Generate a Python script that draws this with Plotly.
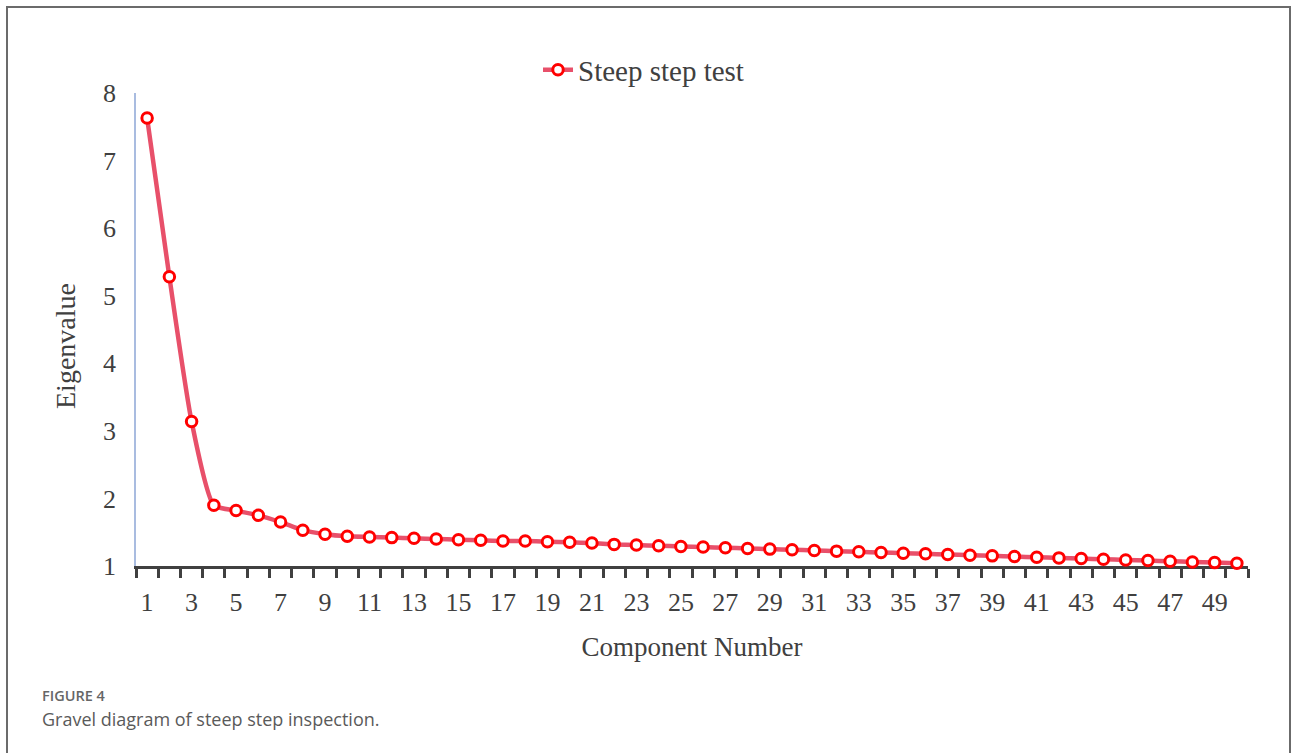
import plotly.graph_objects as go

components = list(range(1, 51))
eigenvalues = [7.63, 5.28, 3.14, 1.90, 1.82, 1.75, 1.65, 1.53, 1.47, 1.44,
               1.43, 1.42, 1.41, 1.40, 1.39, 1.38, 1.37, 1.37, 1.36, 1.35,
               1.34, 1.32, 1.31, 1.30, 1.29, 1.28, 1.27, 1.26, 1.25, 1.24,
               1.23, 1.22, 1.21, 1.20, 1.19, 1.18, 1.17, 1.16, 1.15, 1.14,
               1.13, 1.12, 1.11, 1.10, 1.09, 1.08, 1.07, 1.06, 1.05, 1.04]
x_tick_labels = [str(v) for v in range(1, 50, 2)]
y_tick_values = [1, 2, 3, 4, 5, 6, 7, 8]
series_name = "Steep step test"
x_title = "Component Number"
y_title = "Eigenvalue"
caption_label = "FIGURE 4"
caption_text = "Gravel diagram of steep step inspection."

W, H = 1292, 753
L, R, T, B = 136, 44, 93, 187
pw, ph = W - L - R, H - T - B


def px_x(p):
    return (p - L) / pw


def px_y(p):
    return (H - B - p) / ph


serif = "Liberation Serif, Times New Roman, serif"
text_col = "#404040"

fig = go.Figure()
fig.add_trace(go.Scatter(
    x=components, y=eigenvalues, name=series_name,
    mode="lines+markers",
    line=dict(color="#E8506A", width=4.5, shape="spline", smoothing=0.6),
    marker=dict(symbol="circle", size=10.5, color="white",
                line=dict(color="#FF0000", width=3)),
    cliponaxis=False,
))

fig.update_layout(
    width=W, height=H,
    margin=dict(l=L, r=R, t=T, b=B, autoexpand=False),
    paper_bgcolor="white", plot_bgcolor="white",
    showlegend=True,
    legend=dict(x=px_x(538), y=px_y(70), xanchor="left", yanchor="middle",
                orientation="h", bgcolor="rgba(0,0,0,0)",
                font=dict(family=serif, size=29, color=text_col)),
    xaxis=dict(
        range=[0.5, 50.5], showgrid=False, zeroline=False,
        showline=True, linecolor=text_col, linewidth=3,
        tickmode="array", tickvals=[int(t) for t in x_tick_labels],
        ticktext=x_tick_labels, ticks="outside", ticklen=0,
        tickfont=dict(family=serif, size=26, color=text_col),
        ticklabelstandoff=11,
        minor=dict(tick0=0.5, dtick=1, ticks="outside", ticklen=9,
                   tickwidth=3, tickcolor=text_col, showgrid=False),
        title=dict(text=x_title, standoff=21,
                   font=dict(family=serif, size=27, color=text_col)),
        layer="below traces", automargin=False,
    ),
    yaxis=dict(
        range=[1, 8], showgrid=False, zeroline=False,
        showline=True, linecolor="#A9BCE0", linewidth=1.5,
        tickmode="array", tickvals=y_tick_values, ticks="",
        tickfont=dict(family=serif, size=26, color=text_col),
        ticklabelstandoff=13,
        layer="below traces", automargin=False,
    ),
    shapes=[
        dict(type="line", xref="paper", yref="paper",
             x0=px_x(7), x1=px_x(7), y0=px_y(7), y1=px_y(H + 5),
             line=dict(color="#6b6b6b", width=2)),
        dict(type="line", xref="paper", yref="paper",
             x0=px_x(1290), x1=px_x(1290), y0=px_y(7), y1=px_y(H + 5),
             line=dict(color="#6b6b6b", width=2)),
        dict(type="line", xref="paper", yref="paper",
             x0=px_x(6), x1=px_x(1291), y0=px_y(7), y1=px_y(7),
             line=dict(color="#6b6b6b", width=2)),
    ],
    annotations=[
        dict(text=y_title, xref="paper", yref="paper", textangle=-90,
             x=px_x(65), y=px_y(346), xanchor="center", yanchor="middle",
             showarrow=False,
             font=dict(family=serif, size=28, color=text_col)),
        dict(text=caption_label, xref="paper", yref="paper",
             x=px_x(40), y=px_y(695), xanchor="left", yanchor="middle",
             showarrow=False,
             font=dict(family="Open Sans, sans-serif", size=14.5, color="#666666",
                       weight=600)),
        dict(text=caption_text, xref="paper", yref="paper",
             x=px_x(40), y=px_y(719), xanchor="left", yanchor="middle",
             showarrow=False,
             font=dict(family="Open Sans, sans-serif", size=18, color="#5a5a5a")),
    ],
)

fig.write_html(
    "out.html",
    config={"displayModeBar": False},
    post_script="document.body.style.margin='0';document.body.style.overflow='hidden';",
)
